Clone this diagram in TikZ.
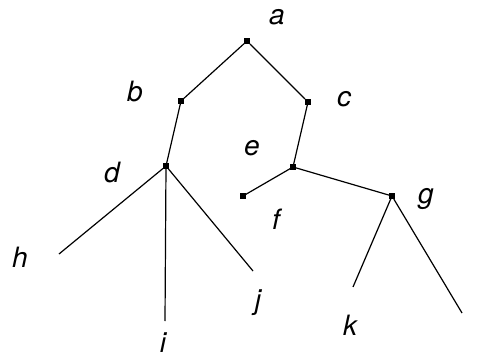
\documentclass[tikz,border=0pt]{standalone}
\usepackage{fontspec}
\setmainfont{TeX Gyre Heros}
\begin{document}
\begin{tikzpicture}[x=1pt,y=-1pt,
  vert/.style={rectangle,fill=black,inner sep=0pt,minimum size=5.5pt},
  lab/.style={anchor=base,inner sep=0pt,font=\fontsize{28}{30}\selectfont\itshape},
  edge/.style={line width=1.2pt}]
\useasboundingbox (0,0) rectangle (481,358);
% vertices
\node[vert] (a) at (247,41) {};
\node[vert] (b) at (181,101) {};
\node[vert] (c) at (308,102) {};
\node[vert] (d) at (166,166) {};
\node[vert] (e) at (293,167) {};
\node[vert] (f) at (243,196) {};
\node[vert] (g) at (392,196) {};
% free ends
\coordinate (h) at (59,254);
\coordinate (i) at (165,321);
\coordinate (j) at (253,271);
\coordinate (k) at (353,287);
\coordinate (l) at (462,313);
% edges
\draw[edge] (a) -- (b);
\draw[edge] (a) -- (c);
\draw[edge] (b) -- (d);
\draw[edge] (c) -- (e);
\draw[edge] (e) -- (f);
\draw[edge] (e) -- (g);
\draw[edge] (d) -- (h);
\draw[edge] (d) -- (i);
\draw[edge] (d) -- (j);
\draw[edge] (g) -- (k);
\draw[edge] (g) -- (l);
% labels
\node[lab] (la) at (277,25) {a};
\node[lab] (lb) at (135,102) {b};
\node[lab] (lc) at (344,107) {c};
\node[lab] (ld) at (112,182) {d};
\node[lab] (le) at (252,155) {e};
\node[lab] (lf) at (276,229) {f};
\node[lab] (lg) at (426,203) {g};
\node[lab] (lh) at (20,267) {h};
\node[lab] (li) at (163,352) {i};
\node[lab] (lj) at (258,309) {j};
\node[lab] (lk) at (350,335) {k};
\end{tikzpicture}
\end{document}
